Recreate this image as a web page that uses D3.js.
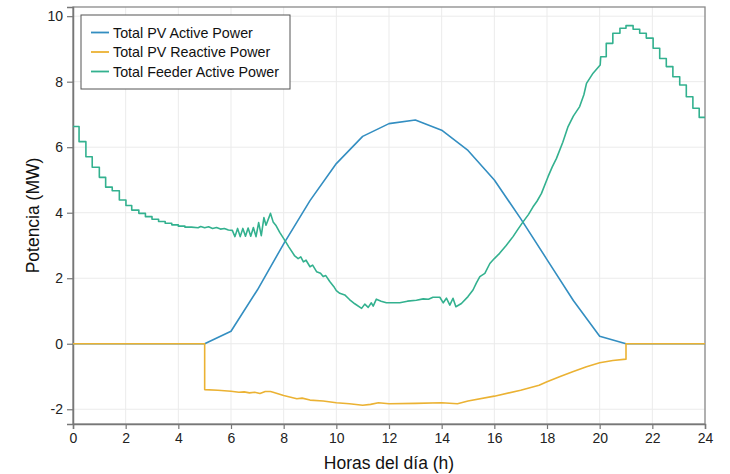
<!DOCTYPE html>
<html>
<head>
<meta charset="utf-8">
<script src="https://cdn.jsdelivr.net/npm/d3@7"></script>
<style>
    body { margin: 0; background: white; }
    svg { display: block; font-family: "Liberation Sans", Arial, sans-serif; }
</style>
</head>
<body>
<svg id="canvas"></svg>
<script>
// hourly PV active power (MW)
const pvHours = [0, 1, 2, 3, 4, 5, 6, 7, 8, 9, 10, 11, 12, 13, 14, 15, 16, 17, 18, 19, 20, 21, 22, 23, 24];
const pvActive = [0, 0, 0, 0, 0, 0, 0.38, 1.64, 3.05, 4.37, 5.5, 6.33, 6.72, 6.83, 6.52, 5.9, 5.0, 3.82, 2.57, 1.32, 0.23, 0, 0, 0, 0];

// PV reactive power (MW)
const reactiveHours = [0, 5, 5, 5.5, 6, 6.3, 6.5, 6.7, 6.9, 7.1, 7.3, 7.5, 7.6, 8, 8.5, 8.7, 9, 9.5, 10, 10.5, 11, 11.3, 11.6, 12, 13, 14, 14.6, 15, 16, 17, 17.7, 18, 18.5, 19, 19.5, 20, 20.5, 21, 21, 24];
const pvReactive = [0, 0, -1.4, -1.42, -1.45, -1.48, -1.47, -1.5, -1.48, -1.52, -1.46, -1.46, -1.48, -1.58, -1.68, -1.66, -1.72, -1.75, -1.8, -1.83, -1.88, -1.85, -1.8, -1.83, -1.82, -1.8, -1.83, -1.75, -1.6, -1.42, -1.27, -1.16, -1.0, -0.85, -0.7, -0.58, -0.51, -0.47, 0, 0];

// feeder active power (MW)
const feederHours = [0, 0.23, 0.23, 0.49, 0.49, 0.73, 0.73, 1.0, 1.0, 1.24, 1.24, 1.49, 1.49, 1.76, 1.76, 2.01, 2.01, 2.23, 2.23, 2.5, 2.5, 2.75, 2.75, 3.0, 3.0, 3.25, 3.25, 3.5, 3.5, 3.75, 3.75, 4.0, 4.0, 4.25, 4.25, 4.5,
    4.75, 4.85, 5.0, 5.15, 5.3, 5.45, 5.6, 5.75, 5.9, 6.05,
    6.15, 6.25, 6.35, 6.45, 6.55, 6.65, 6.75, 6.85, 6.95, 7.05, 7.15, 7.25, 7.33, 7.5, 7.6, 7.7, 7.85, 8.05, 8.2, 8.42, 8.55, 8.65, 8.75, 8.85, 9.0, 9.1, 9.25, 9.4, 9.5, 9.6, 9.75, 9.9, 10.0, 10.13, 10.32, 10.5, 10.7, 10.96,
    11.08, 11.21, 11.33, 11.4, 11.52, 11.7, 11.9, 12.41, 12.7, 13.04, 13.3, 13.5, 13.67, 13.93, 14.06, 14.18, 14.31, 14.43, 14.54, 14.75, 15.0, 15.19, 15.32, 15.45, 15.64, 15.83, 16.0, 16.2, 16.45, 16.71, 16.9, 17.09, 17.3, 17.47, 17.62, 17.79,
    18.04, 18.2, 18.36, 18.6, 18.8, 19.0, 19.24, 19.4, 19.5, 19.75, 20.02, 20.04, 20.25, 20.25, 20.5, 20.5, 20.77, 20.77, 21.0, 21.0, 21.27, 21.27, 21.52, 21.52, 21.77, 21.77, 22.03, 22.03, 22.28, 22.28, 22.53, 22.53, 22.78, 22.78, 23.04, 23.04, 23.29, 23.29, 23.54, 23.54, 23.78, 23.78, 24];
const feederActive = [6.63, 6.63, 6.17, 6.17, 5.71, 5.71, 5.39, 5.39, 5.08, 5.08, 4.78, 4.78, 4.67, 4.67, 4.39, 4.39, 4.22, 4.22, 4.08, 4.08, 3.98, 3.98, 3.88, 3.88, 3.8, 3.8, 3.73, 3.73, 3.68, 3.68, 3.63, 3.63, 3.59, 3.59, 3.56, 3.56,
    3.54, 3.58, 3.54, 3.57, 3.52, 3.55, 3.5, 3.52, 3.47, 3.46,
    3.27, 3.52, 3.27, 3.52, 3.28, 3.53, 3.28, 3.55, 3.27, 3.7, 3.3, 3.85, 3.62, 3.98, 3.72, 3.62, 3.4, 3.15, 2.95, 2.68, 2.6, 2.65, 2.5, 2.55, 2.35, 2.4, 2.2, 2.15, 2.05, 2.08, 1.9, 1.75, 1.62, 1.54, 1.49, 1.35, 1.22, 1.08,
    1.21, 1.11, 1.25, 1.15, 1.36, 1.3, 1.25, 1.25, 1.3, 1.33, 1.37, 1.36, 1.42, 1.42, 1.25, 1.39, 1.18, 1.39, 1.13, 1.23, 1.44, 1.64, 1.86, 2.05, 2.15, 2.45, 2.6, 2.76, 3.0, 3.27, 3.5, 3.72, 3.95, 4.18, 4.35, 4.59,
    5.1, 5.4, 5.66, 6.15, 6.63, 6.95, 7.24, 7.6, 7.95, 8.26, 8.51, 8.76, 8.76, 9.17, 9.17, 9.48, 9.48, 9.63, 9.63, 9.71, 9.71, 9.6, 9.6, 9.48, 9.48, 9.33, 9.33, 9.02, 9.02, 8.71, 8.71, 8.46, 8.46, 8.15, 8.15, 7.9, 7.9, 7.54, 7.54, 7.19, 7.19, 6.91, 6.91];

const xTicks = [0, 2, 4, 6, 8, 10, 12, 14, 16, 18, 20, 22, 24];
const yTicks = [-2, 0, 2, 4, 6, 8, 10];
const seriesNames = ["Total PV Active Power", "Total PV Reactive Power", "Total Feeder Active Power"];

const colors = ["#338ec1", "#ebb233", "#33b18f"];
const svgWidth = 730;
const svgHeight = 474;
const margin = { left: 73, right: 25, top: 7, bottom: 50 };

const svg = d3.select("#canvas")
    .attr("width", svgWidth)
    .attr("height", svgHeight);

const xScale = d3.scaleLinear()
    .domain([0, 24])
    .range([margin.left, svgWidth - margin.right]);

const yScale = d3.scaleLinear()
    .domain([-2.45, 10.28])
    .range([svgHeight - margin.bottom, margin.top]);

// grid
const grid = svg.append("g").attr("stroke", "#ebebeb").attr("stroke-width", 1);
grid.selectAll(".gx").data(xTicks).enter().append("line")
    .attr("x1", d => xScale(d)).attr("x2", d => xScale(d))
    .attr("y1", margin.top).attr("y2", svgHeight - margin.bottom);
grid.selectAll(".gy").data(yTicks).enter().append("line")
    .attr("x1", margin.left).attr("x2", svgWidth - margin.right)
    .attr("y1", d => yScale(d)).attr("y2", d => yScale(d));

// frame
svg.append("rect")
    .attr("x", margin.left)
    .attr("y", margin.top)
    .attr("width", svgWidth - margin.left - margin.right)
    .attr("height", svgHeight - margin.top - margin.bottom)
    .attr("fill", "none")
    .attr("stroke", "#8a8a8a")
    .attr("stroke-width", 1.3);

const xAxis = d3.axisBottom(xScale).tickValues(xTicks).tickFormat(d => String(d)).tickSize(5).tickPadding(4);
const yAxis = d3.axisLeft(yScale).tickValues(yTicks).tickFormat(d => String(d)).tickSize(6).tickPadding(4);

const gx = svg.append("g")
    .attr("transform", "translate(0," + (svgHeight - margin.bottom) + ")")
    .call(xAxis);
const gy = svg.append("g")
    .attr("transform", "translate(" + margin.left + ",0)")
    .call(yAxis);

[gx, gy].forEach(g => {
    g.select(".domain").attr("stroke", "#777").attr("stroke-width", 1.5);
    g.selectAll(".tick line").attr("stroke", "#777").attr("stroke-width", 1.2);
    g.selectAll(".tick text")
        .style("font-size", "14px")
        .style("font-family", "Liberation Sans, Arial, sans-serif")
        .attr("fill", "#222");
});

svg.append("text")
    .attr("x", (margin.left + svgWidth - margin.right) / 2)
    .attr("y", svgHeight - 5)
    .style("text-anchor", "middle")
    .style("font-size", "17.5px")
    .attr("fill", "#111")
    .text("Horas del día (h)");

svg.append("text")
    .attr("transform", "rotate(-90)")
    .attr("x", -(margin.top + svgHeight - margin.bottom) / 2)
    .attr("y", 39)
    .style("text-anchor", "middle")
    .style("font-size", "17.5px")
    .attr("fill", "#111")
    .text("Potencia (MW)");

// lines
const line = d3.line()
    .x(d => xScale(d[0]))
    .y(d => yScale(d[1]));

const series = [
    d3.zip(pvHours, pvActive),
    d3.zip(reactiveHours, pvReactive),
    d3.zip(feederHours, feederActive)
];

svg.append("g")
    .selectAll("path")
    .data(series)
    .enter()
    .append("path")
    .attr("d", d => line(d))
    .attr("fill", "none")
    .attr("stroke", (d, i) => colors[i])
    .attr("stroke-width", 1.6)
    .attr("stroke-linejoin", "round");

// legend
const legend = svg.append("g").attr("transform", "translate(81,15)");
legend.append("rect")
    .attr("width", 209)
    .attr("height", 74)
    .attr("fill", "white")
    .attr("stroke", "#555")
    .attr("stroke-width", 1);

const entries = legend.selectAll(".entry")
    .data(seriesNames)
    .enter()
    .append("g")
    .attr("transform", (d, i) => "translate(0," + (17.5 + i * 19.5) + ")");

entries.append("line")
    .attr("x1", 10).attr("x2", 28)
    .attr("y1", 0).attr("y2", 0)
    .attr("stroke", (d, i) => colors[i])
    .attr("stroke-width", 1.8);

entries.append("text")
    .attr("x", 32)
    .attr("y", 5)
    .style("font-size", "14.3px")
    .attr("fill", "#111")
    .text(d => d);
</script>
</body>
</html>
